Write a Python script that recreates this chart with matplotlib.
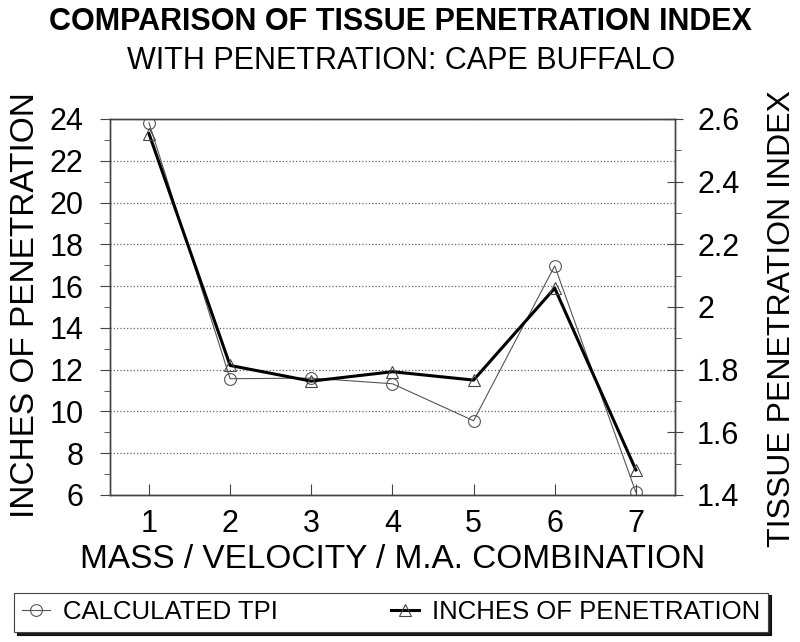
import matplotlib.pyplot as plt
from matplotlib.ticker import MultipleLocator, FuncFormatter

plt.rcParams['font.family'] = ['Liberation Sans', 'DejaVu Sans']

combos = [1, 2, 3, 4, 5, 6, 7]
inches = [23.3, 12.2, 11.45, 11.9, 11.5, 15.9, 7.2]
tpi = [2.588, 1.771, 1.773, 1.755, 1.637, 2.131, 1.409]

fig = plt.figure(figsize=(8, 6.42), dpi=100)
ax = fig.add_axes([0.1375, 0.229, 0.706, 0.5857])
ax2 = ax.twinx()

# TPI on right axis, thin grey with circles
l1, = ax2.plot(combos, tpi, color='#555555', linewidth=0.8, marker='o', markersize=8.5,
               markerfacecolor='none', markeredgecolor='#555555', markeredgewidth=0.8,
               label='CALCULATED TPI')
# inches on left axis, thick black with triangles
l2, = ax.plot(combos, inches, color='black', linewidth=2.2, marker='^', markersize=8.5,
              markerfacecolor='none', markeredgecolor='#444444', markeredgewidth=0.8,
              label='INCHES OF PENETRATION')
ax.set_zorder(ax2.get_zorder() + 1)
ax.patch.set_visible(False)

ax.set_xlim(0.52, 7.48)
ax.set_ylim(6, 24)
ax2.set_ylim(1.4, 2.6)
ax.set_xticks(combos)
ax.yaxis.set_major_locator(MultipleLocator(2))
ax.yaxis.set_minor_locator(MultipleLocator(1))
ax2.yaxis.set_major_locator(MultipleLocator(0.2))
ax2.yaxis.set_minor_locator(MultipleLocator(0.1))
ax2.yaxis.set_major_formatter(FuncFormatter(lambda v, p: ('%.1f' % v).rstrip('0').rstrip('.')))

ax.grid(axis='y', which='major', linestyle=':', color='#666666', linewidth=0.9)

for a in (ax, ax2):
    for s in a.spines.values():
        s.set_color('#444444')
        s.set_linewidth(1)
ax.tick_params(axis='x', direction='in', length=8, labelsize=22, pad=10, color='#444444')
ax.tick_params(axis='y', which='major', direction='out', length=7, labelsize=22, pad=12,
               color='#444444')
ax.tick_params(axis='y', which='minor', direction='out', length=4, color='#444444')
ax2.tick_params(axis='y', which='major', direction='inout', length=12, labelsize=22, pad=10,
                color='#444444')
ax2.tick_params(axis='y', which='minor', direction='out', length=4, color='#444444')

ax.set_xlabel('MASS / VELOCITY / M.A. COMBINATION', fontsize=24, labelpad=4)
ax.set_ylabel('INCHES OF PENETRATION', fontsize=24)
ax2.set_ylabel('TISSUE PENETRATION INDEX', fontsize=23)
ax.yaxis.set_label_coords(-0.122, 0.505)
ax2.yaxis.set_label_coords(1.163, 0.47)

fig.text(0.501, 0.966, 'COMPARISON OF TISSUE PENETRATION INDEX', ha='center', va='center',
         fontsize=22, fontweight='bold')
fig.text(0.501, 0.905, 'WITH PENETRATION: CAPE BUFFALO', ha='center', va='center', fontsize=22)

leg = fig.legend(handles=[l1, l2], loc='lower left',
                 bbox_to_anchor=(14 / 800, 0.0156, 754 / 800, 0.053),
                 mode='expand', ncol=2, frameon=True, fancybox=False,
                 shadow={'color': 'black', 'alpha': 0.9}, borderaxespad=0,
                 fontsize=18.5, handlelength=1.1, handletextpad=0.5, borderpad=0.3)
leg.get_frame().set_edgecolor('#444444')
leg.get_frame().set_linewidth(0.8)

fig.savefig('out.png', dpi=100)
